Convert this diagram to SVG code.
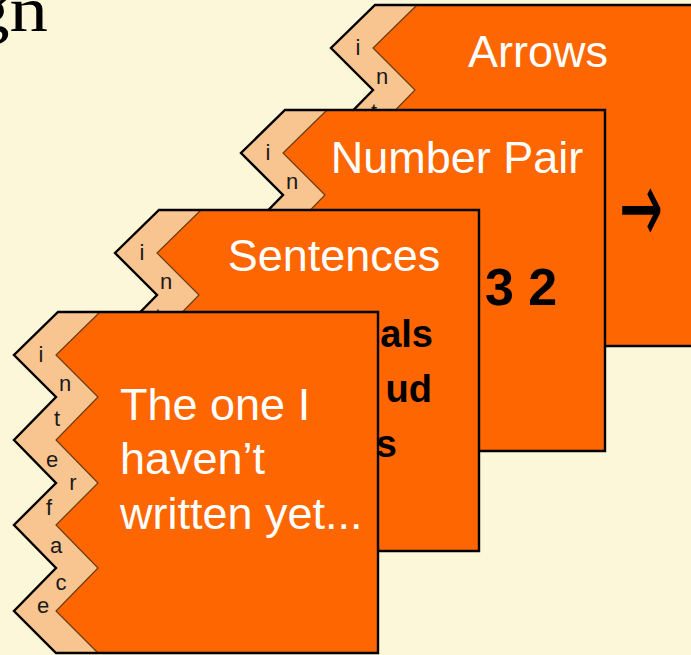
<svg xmlns="http://www.w3.org/2000/svg" xmlns:xlink="http://www.w3.org/1999/xlink" width="691" height="655" viewBox="0 0 691 655">
  <style>
    .bg { fill: #FCF7D8; }
    .peach { fill: #F8C590; }
    .orange { fill: #FE6602; }
    .outline { fill: none; stroke: #000; stroke-width: 2.4; stroke-linejoin: miter; }
    .inner { fill: none; stroke: #6b3a10; stroke-width: 1.2; }
    .ltr { font-family: "Liberation Sans", Arial, sans-serif; font-size: 22px; fill: #1a1a1a; text-anchor: middle; }
    .title { font-family: "Liberation Sans", Arial, sans-serif; font-size: 45px; fill: #fff; }
    .bold { font-family: "Liberation Sans", Arial, sans-serif; font-weight: bold; fill: #000; }
    .serif { font-family: "Liberation Serif", "Times New Roman", serif; font-size: 64px; fill: #000; }
    .arrow { font-family: "DejaVu Sans", sans-serif; font-size: 52px; fill: #000; }
  </style>
  <defs>
    <g id="card-shape">
      <path class="peach" d="M0,0 H320 V341 H-2 L-44,299 L-2,256 L-44,213 L-2,171 L-44,128 L-2,85 L-44,43 Z"/>
      <path class="orange" d="M42,0 H320 V341 H40 L-2,299 L40,256 L-2,213 L40,171 L-2,128 L40,85 L-2,43 Z"/>
      <path class="inner" d="M42,0 L-2,43 L40,85 L-2,128 L40,171 L-2,213 L40,256 L-2,299 L40,341"/>
      <path class="outline" d="M0,0 H320 V341 H-2 L-44,299 L-2,256 L-44,213 L-2,171 L-44,128 L-2,85 L-44,43 Z"/>
      <g class="ltr">
        <text x="-17" y="50">i</text>
        <text x="7" y="79">n</text>
        <text x="-1" y="114">t</text>
        <text x="-6" y="155">e</text>
        <text x="15" y="178">r</text>
        <text x="-9" y="203">f</text>
        <text x="-2" y="241">a</text>
        <text x="3" y="278">c</text>
        <text x="-15" y="301">e</text>
      </g>
    </g>
  </defs>
  <rect class="bg" x="0" y="0" width="691" height="655"/>
  <text class="serif" x="40" y="31" text-anchor="end" transform="scale(1.2,1)">gn</text>

  <g id="card-arrows">
    <use href="#card-shape" xlink:href="#card-shape" transform="translate(375,5)"/>
    <text class="title" x="538" y="67" text-anchor="middle">Arrows</text>
    <text class="arrow" x="641" y="226" text-anchor="middle" transform="translate(641,209) scale(1,2) translate(-641,-209)">→</text>
  </g>

  <g id="card-number-pair">
    <use href="#card-shape" xlink:href="#card-shape" transform="translate(285,110)"/>
    <text class="title" x="457" y="173" text-anchor="middle">Number Pair</text>
    <text class="bold" x="485" y="305" font-size="52">3 2</text>
  </g>

  <g id="card-sentences">
    <use href="#card-shape" xlink:href="#card-shape" transform="translate(159,210)"/>
    <text class="title" x="334" y="271" text-anchor="middle">Sentences</text>
    <g class="bold" font-size="38" text-anchor="end">
      <text x="433" y="347">als</text>
      <text x="432" y="402">ud</text>
      <text x="397" y="457">s</text>
    </g>
  </g>

  <g id="card-unwritten">
    <use href="#card-shape" xlink:href="#card-shape" transform="translate(58,312)"/>
    <g class="title">
      <text x="120" y="420">The one I</text>
      <text x="120" y="474">haven’t</text>
      <text x="120" y="529">written yet...</text>
    </g>
  </g>

  <g id="connectors"></g>
</svg>
